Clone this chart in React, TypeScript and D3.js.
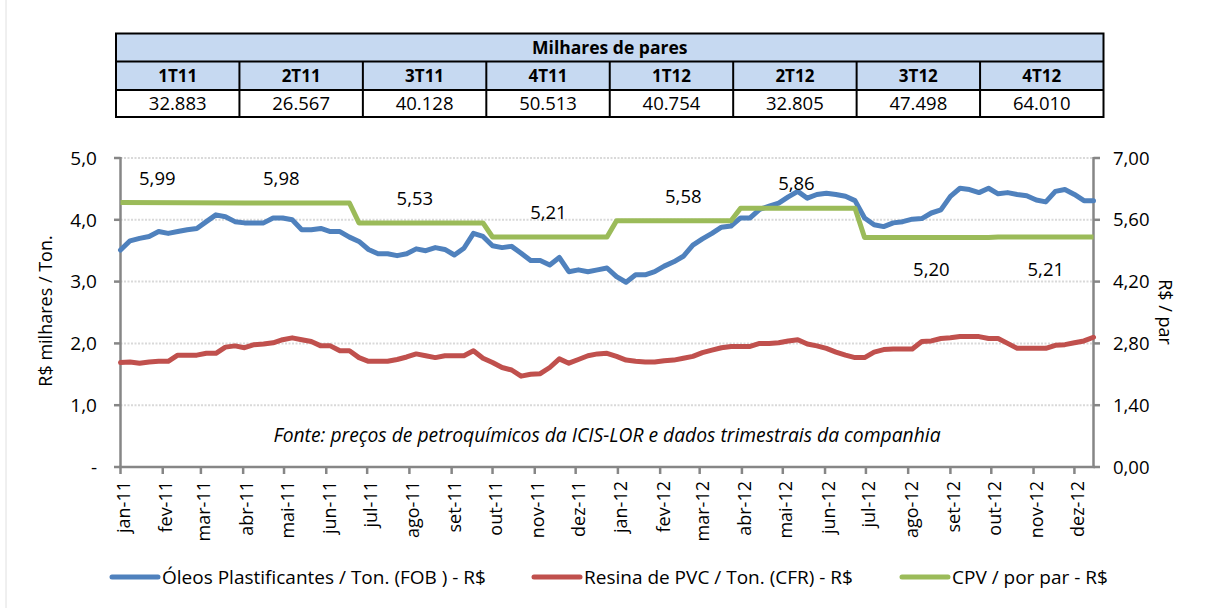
import React from "react";
import * as d3 from "d3";

// ---------- DATA ----------
const quarters = ["1T11", "2T11", "3T11", "4T11", "1T12", "2T12", "3T12", "4T12"];
const pairsThousands = ["32.883", "26.567", "40.128", "50.513", "40.754", "32.805", "47.498", "64.010"];

const firstWeek = "2011-01-01";

// Óleos Plastificantes / Ton. (FOB) - R$ mil (weekly)
const oleos = [
  3.51, 3.66, 3.70, 3.73, 3.81, 3.78, 3.81, 3.84, 3.86, 3.97, 4.08, 4.05, 3.97, 3.95, 3.95, 3.95, 4.03, 4.03, 4.00, 3.84,
  3.84, 3.86, 3.81, 3.81, 3.72, 3.65, 3.52, 3.45, 3.45, 3.42, 3.45, 3.53, 3.50, 3.55, 3.52,
  3.43, 3.54, 3.78, 3.73, 3.58, 3.55, 3.57, 3.46, 3.34, 3.34, 3.27, 3.39, 3.16, 3.19, 3.16, 3.19, 3.22, 3.08, 2.99, 3.11,
  3.11, 3.16, 3.25, 3.32, 3.41, 3.59, 3.69, 3.78, 3.88, 3.90, 4.03, 4.03, 4.17, 4.22,
  4.27, 4.37, 4.46, 4.35, 4.41, 4.43, 4.41, 4.38, 4.31, 4.03, 3.92, 3.89, 3.95, 3.97, 4.01, 4.02, 4.11, 4.16, 4.38, 4.51,
  4.49, 4.44, 4.51, 4.42, 4.44, 4.41, 4.39, 4.32, 4.29, 4.46, 4.49, 4.41, 4.31, 4.31,
];

// Resina de PVC / Ton. (CFR) - R$ mil (weekly)
const resina = [
  1.69, 1.70, 1.68, 1.70, 1.71, 1.71, 1.81, 1.81, 1.81, 1.84, 1.84, 1.94, 1.96, 1.93, 1.98, 1.99, 2.01, 2.06, 2.09, 2.06,
  2.03, 1.96, 1.96, 1.88, 1.88, 1.77, 1.71, 1.71, 1.71, 1.74, 1.78, 1.83, 1.80, 1.77, 1.80,
  1.80, 1.80, 1.88, 1.76, 1.69, 1.61, 1.57, 1.47, 1.50, 1.51, 1.61, 1.75, 1.68, 1.74, 1.80, 1.83, 1.84, 1.79, 1.73, 1.71,
  1.70, 1.70, 1.72, 1.73, 1.76, 1.79, 1.85, 1.89, 1.93, 1.95, 1.95, 1.95, 2.00, 2.00,
  2.01, 2.04, 2.06, 1.99, 1.96, 1.92, 1.86, 1.81, 1.77, 1.77, 1.86, 1.90, 1.91, 1.91, 1.91, 2.03, 2.04, 2.08, 2.09, 2.11,
  2.11, 2.11, 2.08, 2.08, 2.00, 1.92, 1.92, 1.92, 1.92, 1.97, 1.98, 2.01, 2.04, 2.10,
];

// CPV / por par - R$ (step vertices)
const cpvDates = [
  "2011-01-01", "2011-04-02", "2011-06-18", "2011-06-25", "2011-09-24", "2011-10-01", "2011-12-24", "2011-12-31",
  "2012-03-24", "2012-03-31", "2012-06-23", "2012-06-30", "2012-09-29", "2012-10-06", "2012-12-15",
];
const cpvValues = [5.99, 5.98, 5.98, 5.53, 5.53, 5.21, 5.21, 5.58, 5.58, 5.86, 5.86, 5.2, 5.2, 5.21, 5.21];

// CPV data labels (quarter values, anchor dates, above/below)
const cpvLabelValues = [5.99, 5.98, 5.53, 5.21, 5.58, 5.86, 5.2, 5.21];
const cpvLabelDates = ["2011-01-28", "2011-04-29", "2011-08-05", "2011-11-11", "2012-02-18", "2012-05-11", "2012-08-18", "2012-11-10"];
const cpvLabelBelow = [false, false, false, false, false, false, true, true];

const leftTicks = [0, 1, 2, 3, 4, 5];
const rightTicks = [0, 1.4, 2.8, 4.2, 5.6, 7];
const monthNames = ["jan", "fev", "mar", "abr", "mai", "jun", "jul", "ago", "set", "out", "nov", "dez"];

const seriesNames = ["Óleos Plastificantes / Ton. (FOB ) - R$", "Resina de PVC / Ton. (CFR) - R$", "CPV / por par - R$"];
const sourceText = "Fonte: preços de petroquímicos da ICIS-LOR e dados trimestrais da companhia";

// ---------- STYLE ----------
const FONT = "'Open Sans', Lato, sans-serif";
const BLUE = "#4F81BD";
const RED = "#C0504D";
const GREEN = "#9BBB59";
const AXIS = "#868686";
const GRID = "#D9D9D9";
const HEAD_BG = "#C6D9F1";

export default function App() {
  const W = 1209;
  const H = 608;
  const parse = d3.timeParse("%Y-%m-%d");
  const start = parse(firstWeek) as Date;
  const weeks = oleos.map((_, i) => d3.timeDay.offset(start, 7 * i));
  const end = weeks[weeks.length - 1];

  const x = d3.scaleTime().domain([start, end]).range([120.5, 1093.5]);
  const yL = d3.scaleLinear().domain([0, 5]).range([467, 158]);
  const yR = d3.scaleLinear().domain([0, 7]).range([467, 158]);

  const lineL = d3
    .line<number>()
    .x((_, i) => x(weeks[i]))
    .y((d) => yL(d));
  const cpvPts = cpvDates.map((d, i) => [x(parse(d) as Date), yR(cpvValues[i])] as [number, number]);
  const lineR = d3.line<[number, number]>();

  const months = d3.timeMonth.range(start, d3.timeDay.offset(end, 1));

  // table geometry
  const tL = 116, tR = 1103.5, tTop = 33.5, r1 = 61.5, r2 = 90, tBot = 117;
  const colW = (tR - tL) / quarters.length;

  const fmtL = (v: number) => (v === 0 ? "-" : d3.format(".1f")(v).replace(".", ","));
  const fmtR = (v: number) => d3.format(".2f")(v).replace(".", ",");

  const legendItems = [
    { name: seriesNames[0], color: BLUE, x0: 112 },
    { name: seriesNames[1], color: RED, x0: 534 },
    { name: seriesNames[2], color: GREEN, x0: 902 },
  ];

  return (
    <div style={{ position: "absolute", left: 0, top: 0 }}>
      <svg width={W} height={H} style={{ display: "block", background: "#fff", fontFamily: FONT }}>
        <line x1={6} y1={0} x2={6} y2={H} stroke="#E0E0E0" strokeWidth={1} />

        {/* table */}
        <rect x={tL} y={tTop} width={tR - tL} height={r2 - tTop} fill={HEAD_BG} />
        <rect x={tL} y={tTop} width={tR - tL} height={tBot - tTop} fill="none" stroke="#000" strokeWidth={2} />
        <line x1={tL} x2={tR} y1={r1} y2={r1} stroke="#000" strokeWidth={2} />
        <line x1={tL} x2={tR} y1={r2} y2={r2} stroke="#000" strokeWidth={2} />
        {quarters.slice(1).map((_, i) => (
          <line key={"c" + i} x1={tL + colW * (i + 1)} x2={tL + colW * (i + 1)} y1={r1} y2={tBot} stroke="#000" strokeWidth={2} />
        ))}
        <text x={(tL + tR) / 2} y={(tTop + r1) / 2} dy="0.36em" textAnchor="middle" fontWeight="bold" fontSize={17.5}>
          Milhares de pares
        </text>
        {quarters.map((q, i) => (
          <text key={"q" + i} x={tL + colW * (i + 0.5)} y={(r1 + r2) / 2} dy="0.36em" textAnchor="middle" fontWeight="bold" fontSize={17}>
            {q}
          </text>
        ))}
        {pairsThousands.map((v, i) => (
          <text key={"v" + i} x={tL + colW * (i + 0.5)} y={(r2 + tBot) / 2} dy="0.36em" textAnchor="middle" fontSize={18.5}>
            {v}
          </text>
        ))}

        {/* gridlines */}
        {leftTicks.slice(1).map((t) => (
          <line key={"g" + t} x1={120.5} x2={1093.5} y1={yL(t)} y2={yL(t)} stroke={GRID} strokeWidth={2} strokeDasharray="2 1.5" />
        ))}

        {/* axes */}
        <line x1={120.5} x2={120.5} y1={157} y2={468} stroke={AXIS} strokeWidth={2.5} />
        <line x1={1093.5} x2={1093.5} y1={157} y2={468} stroke={AXIS} strokeWidth={2.5} />
        <line x1={119} x2={1095} y1={467} y2={467} stroke={AXIS} strokeWidth={2.5} />
        {leftTicks.map((t) => (
          <g key={"lt" + t}>
            <line x1={114} x2={120.5} y1={yL(t)} y2={yL(t)} stroke={AXIS} strokeWidth={2.5} />
            <text x={97} y={yL(t)} dy="0.36em" textAnchor="end" fontSize={19} fill="#000">
              {fmtL(t)}
            </text>
          </g>
        ))}
        {rightTicks.map((t) => (
          <g key={"rt" + t}>
            <line x1={1093.5} x2={1100} y1={yR(t)} y2={yR(t)} stroke={AXIS} strokeWidth={2.5} />
            <text x={1113} y={yR(t)} dy="0.36em" textAnchor="start" fontSize={18.5} fill="#000">
              {fmtR(t)}
            </text>
          </g>
        ))}
        {months.map((m, i) => (
          <g key={"m" + i}>
            <line x1={x(m)} x2={x(m)} y1={467} y2={474} stroke={AXIS} strokeWidth={2.5} />
            <text
              transform={`translate(${x(m) + 3},${481}) rotate(-90)`}
              dy="0.36em"
              textAnchor="end"
              fontSize={18}
              fill="#000"
            >
              {`${monthNames[m.getMonth()]}-${String(m.getFullYear()).slice(2)}`}
            </text>
          </g>
        ))}

        {/* axis titles */}
        <text transform="translate(46,311) rotate(-90)" dy="0.36em" textAnchor="middle" fontSize={18}>
          R$ milhares / Ton.
        </text>
        <text transform="translate(1165,312) rotate(90)" dy="0.36em" textAnchor="middle" fontSize={18}>
          R$ / par
        </text>

        {/* source */}
        <text x={607} y={435} dy="0.36em" textAnchor="middle" fontStyle="italic" fontSize={19.3}>
          {sourceText}
        </text>

        {/* series */}
        <path d={lineL(resina) || ""} fill="none" stroke={RED} strokeWidth={5} strokeLinejoin="round" strokeLinecap="round" />
        <path d={lineL(oleos) || ""} fill="none" stroke={BLUE} strokeWidth={5} strokeLinejoin="round" strokeLinecap="round" />
        <path d={lineR(cpvPts) || ""} fill="none" stroke={GREEN} strokeWidth={5} strokeLinejoin="round" />

        {/* CPV labels */}
        {cpvLabelValues.map((v, i) => {
          const lx = x(parse(cpvLabelDates[i]) as Date);
          const ly = yR(v) + (cpvLabelBelow[i] ? 32 : -24.5);
          return (
            <text key={"cl" + i} x={lx} y={ly} dy="0.36em" textAnchor="middle" fontSize={18.5} fill="#000">
              {fmtR(v)}
            </text>
          );
        })}

        {/* legend */}
        {legendItems.map((it, i) => (
          <g key={"lg" + i}>
            <line x1={it.x0} x2={it.x0 + 46} y1={577} y2={577} stroke={it.color} strokeWidth={5} strokeLinecap="round" />
            <text x={it.x0 + 50} y={577} dy="0.36em" fontSize={19} fill="#000">
              {it.name}
            </text>
          </g>
        ))}
      </svg>
    </div>
  );
}
